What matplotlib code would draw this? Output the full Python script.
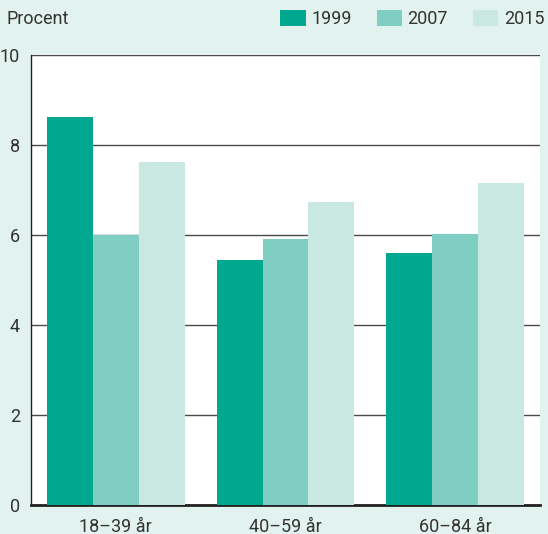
import matplotlib
matplotlib.use("Agg")
import matplotlib.pyplot as plt
import numpy as np
from matplotlib.patches import Patch

groups = ["18–39 år", "40–59 år", "60–84 år"]
years = ["1999", "2007", "2015"]
values_1999 = [8.62, 5.44, 5.60]
values_2007 = [6.00, 5.91, 6.02]
values_2015 = [7.62, 6.73, 7.16]
yticks = [0, 2, 4, 6, 8, 10]

colors = ["#00a88f", "#80cdc3", "#c9e8e2"]
bg = "#e2f2ee"
text_color = "#333333"

plt.rcParams["font.family"] = ["Roboto", "DejaVu Sans"]

fig = plt.figure(figsize=(5.48, 5.34), dpi=100, facecolor=bg)
ax = fig.add_axes([31 / 548, 29 / 534, 509 / 548, 450 / 534])
ax.set_facecolor("white")

x = np.arange(len(groups))
width = 0.27
for i, (vals, color) in enumerate(zip([values_1999, values_2007, values_2015], colors)):
    ax.bar(x + (i - 1) * width, vals, width=width, color=color, zorder=3, linewidth=0)

ax.set_xlim(-0.5, 2.5)
ax.set_ylim(0, 10)
ax.set_yticks(yticks)
ax.set_xticks(x)
ax.set_xticklabels(groups)
ax.tick_params(axis="both", length=0, labelsize=13, colors=text_color)
ax.tick_params(axis="y", pad=8)
ax.tick_params(axis="x", pad=9)
ax.grid(axis="y", color="#4a4a4a", linewidth=1, zorder=1)

for side in ["top", "right"]:
    ax.spines[side].set_visible(False)
ax.spines["left"].set_color("#222222")
ax.spines["left"].set_linewidth(1)
ax.spines["bottom"].set_color("#222222")
ax.spines["bottom"].set_linewidth(2)

fig.text(7 / 548, 1 - 19 / 534, "Procent", fontsize=13, color=text_color, va="center", ha="left")

handles = [Patch(facecolor=c, edgecolor="none") for c in colors]
fig.legend(handles, years, loc="center right", bbox_to_anchor=(1.0, 1 - 19 / 534),
           ncol=3, frameon=False, fontsize=13, handlelength=1.4, handleheight=1.0,
           handletextpad=0.3, columnspacing=1.4, borderaxespad=0.1, borderpad=0.1,
           labelcolor=text_color)

fig.savefig("out.png", dpi=100, facecolor=bg)
